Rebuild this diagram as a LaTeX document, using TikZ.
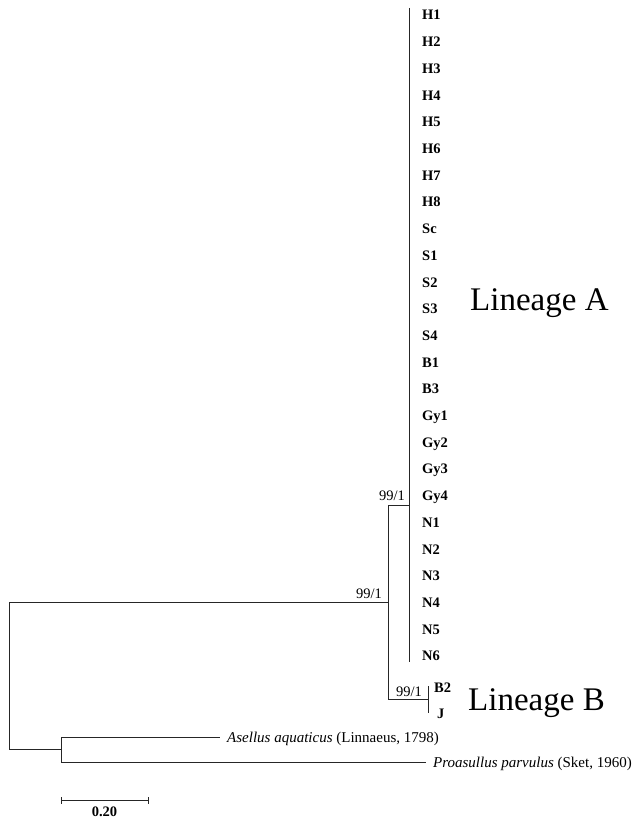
\documentclass[tikz,border=0pt]{standalone}
\usepackage{fontspec}
\setmainfont{Liberation Serif}
\begin{document}
\begin{tikzpicture}[x=1pt,y=-1pt,
  br/.style={line width=1pt,draw=black!85},
  taxon/.style={anchor=base west,inner sep=0pt,font=\fontsize{14.5}{16}\selectfont\bfseries},
  boot/.style={anchor=base east,inner sep=0pt,font=\fontsize{14.5}{16}\selectfont},
  outg/.style={anchor=base west,inner sep=0pt,font=\fontsize{15}{17}\selectfont},
  lin/.style={anchor=base west,inner sep=0pt,font=\fontsize{33}{36}\selectfont}]
\useasboundingbox (0,0) rectangle (638,821);
% taxa of lineage A
\foreach \t [count=\i from 0] in {H1,H2,H3,H4,H5,H6,H7,H8,Sc,S1,S2,S3,S4,B1,B3,Gy1,Gy2,Gy3,Gy4,N1,N2,N3,N4,N5,N6}
  \node[taxon] (t\i) at (422,{20+26.7*\i}) {\t};
% coordinates
\coordinate (aTop) at (409,8);
\coordinate (aBot) at (409,662);
\coordinate (aMid) at (409,505);
\coordinate (abTop) at (388,505);
\coordinate (abMid) at (388,602);
\coordinate (abBot) at (388,699);
\coordinate (bMid) at (428,699);
\coordinate (bTop) at (428,686);
\coordinate (bBot) at (428,713);
\coordinate (rTop) at (9,602);
\coordinate (rBot) at (9,749);
\coordinate (oMid) at (61,749);
\coordinate (oTop) at (61,737);
\coordinate (oBot) at (61,762);
\coordinate (asE) at (220,737);
\coordinate (prE) at (426,762);
% branches
\draw[br] (aTop) -- (aBot);
\draw[br] (abTop) -- (aMid);
\draw[br] (abTop) -- (abBot) -- (bMid);
\draw[br] (bTop) -- (bBot);
\draw[br] (abMid) -- (rTop) -- (rBot) -- (oMid);
\draw[br] (oTop) -- (oBot);
\draw[br] (oTop) -- (asE);
\draw[br] (oBot) -- (prE);
% support values
\node[boot] (s1) at (405,500) {99/1};
\node[boot] (s2) at (382,598) {99/1};
\node[boot] (s3) at (422,696) {99/1};
% lineage B taxa
\node[taxon] (tB2) at (434,692) {B2};
\node[taxon] (tJ) at (437,718) {J};
% outgroups
\node[outg] (as) at (227,742) {\textit{Asellus aquaticus} (Linnaeus, 1798)};
\node[outg] (pr) at (433,767) {\textit{Proasullus parvulus} (Sket, 1960)};
% lineage labels
\node[lin] (LA) at (470,310) {Lineage A};
\node[lin] (LB) at (468,710) {Lineage B};
% scale bar
\coordinate (sbL) at (61,800);
\coordinate (sbR) at (148,800);
\draw[br] (sbL) -- (sbR);
\draw[br] ([yshift=-3.5]sbL) -- ([yshift=3.5]sbL);
\draw[br] ([yshift=-3.5]sbR) -- ([yshift=3.5]sbR);
\node[anchor=base,inner sep=0pt,font=\fontsize{14.5}{16}\selectfont\bfseries] (sbT) at (104.5,816) {0.20};
\end{tikzpicture}
\end{document}
